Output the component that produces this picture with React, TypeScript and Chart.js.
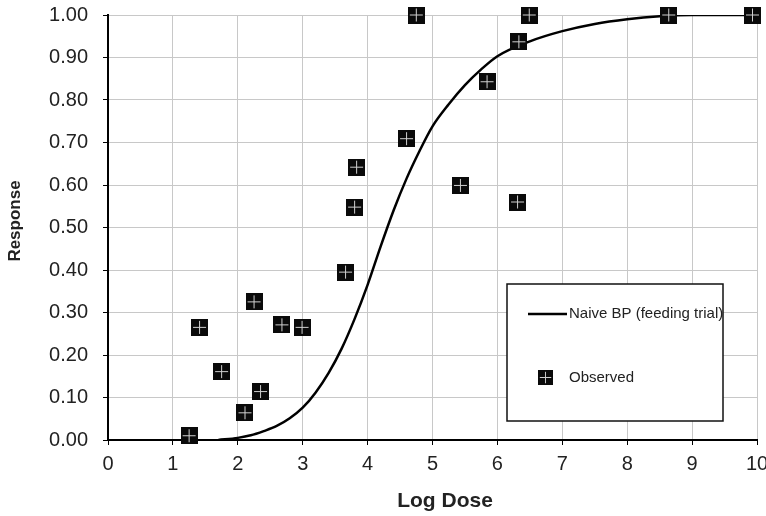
import React, { useEffect, useRef } from "react";
import { Chart, registerables } from "chart.js";

Chart.register(...registerables);

// Observed data points
const observedX = [1.25, 1.41, 1.75, 2.11, 2.25, 2.35, 2.68, 2.99, 3.66, 3.80, 3.83, 4.60, 4.75, 5.43, 5.84, 6.33, 6.31, 6.49, 8.64, 9.93];
const observedY = [0.01, 0.265, 0.161, 0.064, 0.325, 0.114, 0.271, 0.265, 0.395, 0.548, 0.642, 0.709, 1.0, 0.599, 0.843, 0.937, 0.56, 1.0, 1.0, 1.0];

// Fitted curve "Naive BP (feeding trial)"
const curveX = [1.7, 2.0, 2.2, 2.4, 2.6, 2.8, 3.0, 3.2, 3.4, 3.6, 3.8, 4.0, 4.2, 4.4, 4.6, 4.8, 5.0, 5.25, 5.5, 5.75, 6.0, 6.5, 7.0, 7.5, 8.0, 8.5, 9.0, 10.0];
const curveY = [0.0, 0.005, 0.011, 0.021, 0.033, 0.051, 0.076, 0.112, 0.158, 0.215, 0.285, 0.365, 0.455, 0.54, 0.615, 0.68, 0.738, 0.79, 0.835, 0.872, 0.903, 0.938, 0.962, 0.979, 0.99, 0.997, 1.0, 1.0];

const xTickValues = [0, 1, 2, 3, 4, 5, 6, 7, 8, 9, 10];
const yTickValues = [0, 0.1, 0.2, 0.3, 0.4, 0.5, 0.6, 0.7, 0.8, 0.9, 1.0];

const curveLabel = "Naive BP (feeding trial)";
const observedLabel = "Observed";
const xTitle = "Log Dose";
const yTitle = "Response";

const FONT = "'Liberation Sans', Arial, Helvetica, sans-serif";

function makeMarker(): HTMLCanvasElement {
  const s = 17;
  const c = document.createElement("canvas");
  c.width = s;
  c.height = s;
  const g = c.getContext("2d")!;
  g.fillStyle = "#0a0a0a";
  g.fillRect(0, 0, s, s);
  g.fillStyle = "#d0d0d0";
  g.fillRect(8, 2, 1, s - 4);
  g.fillRect(2, 8, s - 4, 1);
  return c;
}

export default function App() {
  const ref = useRef<HTMLCanvasElement | null>(null);

  useEffect(() => {
    document.body.style.margin = "0";
    const canvas = ref.current!;
    const marker = makeMarker();

    const decorPlugin = {
      id: "decor",
      afterDraw(chart: any) {
        const ctx = chart.ctx as CanvasRenderingContext2D;
        ctx.save();
        // axis titles
        ctx.fillStyle = "#222";
        ctx.textAlign = "center";
        ctx.textBaseline = "middle";
        ctx.font = `bold 21px ${FONT}`;
        ctx.fillText(xTitle, 445, 501);
        ctx.save();
        ctx.translate(15, 221);
        ctx.rotate(-Math.PI / 2);
        ctx.font = `bold 17px ${FONT}`;
        ctx.fillText(yTitle, 0, 0);
        ctx.restore();

        // legend box
        const bx = 507, by = 284, bw = 216, bh = 137;
        ctx.fillStyle = "#ffffff";
        ctx.fillRect(bx, by, bw, bh);
        ctx.strokeStyle = "#111";
        ctx.lineWidth = 1.5;
        ctx.strokeRect(bx, by, bw, bh);
        ctx.beginPath();
        ctx.moveTo(528, 314);
        ctx.lineTo(567, 314);
        ctx.strokeStyle = "#000";
        ctx.lineWidth = 2.5;
        ctx.stroke();
        ctx.fillStyle = "#222";
        ctx.font = `15px ${FONT}`;
        ctx.textBaseline = "middle";
        ctx.textAlign = "left";
        ctx.fillText(chart.data.datasets[1].label, 569, 314);
        ctx.drawImage(marker, 538, 370, 15, 15);
        ctx.fillText(chart.data.datasets[0].label, 569, 378);
        ctx.restore();
      },
    };

    const chart = new Chart(canvas, {
      type: "scatter",
      data: {
        datasets: [
          {
            type: "scatter",
            label: observedLabel,
            data: observedX.map((x, i) => ({ x, y: observedY[i] })),
            pointStyle: marker as any,
            pointRadius: 8,
            clip: false as any,
          },
          {
            type: "line",
            label: curveLabel,
            data: curveX.map((x, i) => ({ x, y: curveY[i] })),
            borderColor: "#000",
            borderWidth: 2.5,
            pointRadius: 0,
            fill: false,
            cubicInterpolationMode: "monotone",
          } as any,
        ],
      },
      options: {
        responsive: false,
        animation: false,
        devicePixelRatio: 1,
        layout: { padding: { top: 15, right: 9, left: 0, bottom: 0 } },
        plugins: {
          legend: { display: false },
          tooltip: { enabled: false },
        },
        scales: {
          x: {
            type: "linear",
            min: 0,
            max: 10,
            afterBuildTicks: (s: any) => {
              s.ticks = xTickValues.map((v) => ({ value: v }));
            },
            afterFit: (s: any) => {
              s.height = 76;
              s.paddingLeft = 0;
              s.paddingRight = 0;
            },
            ticks: {
              color: "#222",
              font: { size: 20, family: FONT },
              padding: 7,
              maxRotation: 0,
            },
            grid: { color: "#c8c8c8", lineWidth: 1, tickColor: "#000", tickLength: 5 },
            border: { color: "#000", width: 2 },
            title: { display: false },
          },
          y: {
            type: "linear",
            min: 0,
            max: 1,
            afterBuildTicks: (s: any) => {
              s.ticks = yTickValues.map((v) => ({ value: v }));
            },
            afterFit: (s: any) => {
              s.width = 108;
              s.paddingTop = 0;
              s.paddingBottom = 0;
            },
            ticks: {
              color: "#222",
              font: { size: 20, family: FONT },
              padding: 15,
              callback: (v: any) => Number(v).toFixed(2),
            },
            grid: { color: "#c8c8c8", lineWidth: 1, tickColor: "#000", tickLength: 5 },
            border: { color: "#000", width: 2 },
            title: { display: false },
          },
        },
      },
      plugins: [decorPlugin],
    });

    return () => chart.destroy();
  }, []);

  return (
    <div style={{ width: 766, height: 516, background: "#fff" }}>
      <canvas ref={ref} width={766} height={516} />
    </div>
  );
}
